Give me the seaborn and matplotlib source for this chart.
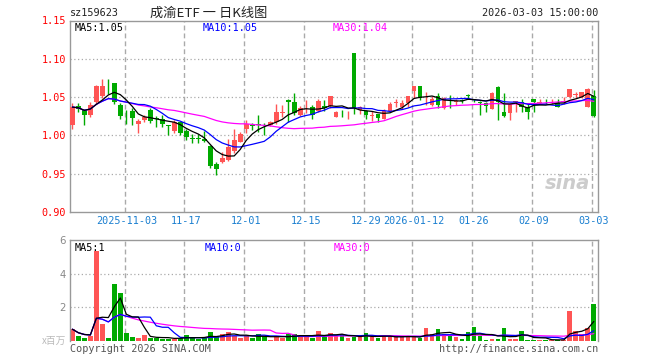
import numpy as np
import pandas as pd
import matplotlib
matplotlib.use("Agg")
import matplotlib.pyplot as plt
import seaborn as sns

# ---------------- data ----------------
opens = [1.013, 1.039, 1.033, 1.026, 1.043, 1.052, 1.069, 1.068, 1.040, 1.031,
         1.032, 1.015, 1.020, 1.033, 1.023, 1.021, 1.0135, 1.006, 1.017, 1.006,
         0.996, 0.996, 0.995, 0.986, 0.963, 0.965, 0.968, 0.979, 0.992, 1.008,
         1.013, 1.0145, 1.0135, 1.0135, 1.017, 1.0295, 1.046, 1.044, 1.027, 1.034,
         1.0376, 1.032, 1.039, 1.038, 1.0245, 1.031, 1.030, 1.107, 1.033, 1.032,
         1.0255, 1.0276, 1.022, 1.032, 1.0425, 1.0376, 1.042, 1.0574, 1.064, 1.046,
         1.040, 1.0508, 1.0355, 1.0465, 1.0437, 1.046, 1.052, 1.0467, 1.044, 1.042,
         1.0346, 1.0626, 1.031, 1.0297, 1.0436, 1.044, 1.0376, 1.047, 1.0427, 1.0433,
         1.0435, 1.042, 1.0437, 1.0495, 1.0527, 1.050, 1.0376, 1.051]
highs = [1.042, 1.042, 1.034, 1.043, 1.066, 1.074, 1.074, 1.069, 1.042, 1.033,
         1.036, 1.022, 1.027, 1.036, 1.025, 1.027, 1.014, 1.020, 1.018, 1.009,
         1.002, 1.002, 1.006, 0.987, 0.965, 0.978, 0.995, 1.008, 1.005, 1.020,
         1.0166, 1.026, 1.016, 1.019, 1.041, 1.040, 1.047, 1.055, 1.038, 1.046,
         1.0395, 1.048, 1.046, 1.051, 1.032, 1.0335, 1.032, 1.107, 1.038, 1.033,
         1.032, 1.028, 1.034, 1.043, 1.048, 1.046, 1.052, 1.065, 1.065, 1.057,
         1.051, 1.055, 1.050, 1.053, 1.048, 1.047, 1.054, 1.048, 1.045, 1.044,
         1.057, 1.064, 1.056, 1.042, 1.045, 1.048, 1.042, 1.047, 1.047, 1.047,
         1.048, 1.047, 1.050, 1.061, 1.057, 1.057, 1.062, 1.0596]
lows = [1.008, 1.031, 1.013, 1.024, 1.041, 1.049, 1.054, 1.041, 1.022, 1.015,
        1.013, 1.003, 1.018, 1.016, 1.011, 1.011, 1.0005, 1.003, 1.000, 0.994,
        0.990, 0.990, 0.991, 0.957, 0.948, 0.964, 0.967, 0.977, 0.991, 1.003,
        1.007, 1.004, 1.000, 1.0125, 1.015, 1.0245, 1.018, 1.027, 1.025, 1.029,
        1.021, 1.030, 1.032, 1.036, 1.0235, 1.024, 1.021, 1.028, 1.028, 1.022,
        1.019, 1.018, 1.021, 1.031, 1.037, 1.035, 1.037, 1.049, 1.046, 1.040,
        1.038, 1.036, 1.035, 1.036, 1.040, 1.042, 1.048, 1.043, 1.0267, 1.031,
        1.034, 1.020, 1.0245, 1.020, 1.030, 1.031, 1.021, 1.031, 1.041, 1.041,
        1.041, 1.0365, 1.041, 1.049, 1.049, 1.049, 1.037, 1.0245]
closes = [1.037, 1.035, 1.026, 1.040, 1.065, 1.065, 1.068, 1.043, 1.025, 1.030,
          1.023, 1.019, 1.0245, 1.019, 1.022, 1.015, 1.012, 1.018, 1.003, 0.998,
          0.995, 0.995, 0.993, 0.960, 0.956, 0.971, 0.985, 0.994, 1.002, 1.015,
          1.0125, 1.014, 1.013, 1.017, 1.030, 1.030, 1.044, 1.029, 1.036, 1.035,
          1.027, 1.045, 1.0355, 1.051, 1.031, 1.030, 1.031, 1.036, 1.0376, 1.026,
          1.026, 1.0224, 1.032, 1.041, 1.043, 1.042, 1.051, 1.064, 1.0487, 1.0465,
          1.047, 1.040, 1.0487, 1.046, 1.044, 1.0455, 1.0517, 1.0464, 1.042, 1.0386,
          1.056, 1.044, 1.0254, 1.041, 1.044, 1.0376, 1.031, 1.043, 1.043, 1.043,
          1.044, 1.0376, 1.044, 1.060, 1.053, 1.0566, 1.060, 1.0256]
volumes = [0.70, 0.28, 0.18, 0.28, 5.32, 1.00, 0.18, 3.40, 2.88, 0.48,
           0.22, 0.16, 0.34, 0.18, 0.20, 0.14, 0.14, 0.12, 0.20, 0.34,
           0.18, 0.14, 0.18, 0.54, 0.28, 0.44, 0.54, 0.28, 0.20, 0.28,
           0.20, 0.44, 0.28, 0.08, 0.28, 0.20, 0.44, 0.40, 0.28, 0.28,
           0.20, 0.60, 0.28, 0.48, 0.28, 0.40, 0.18, 0.22, 0.24, 0.48,
           0.24, 0.18, 0.28, 0.28, 0.24, 0.28, 0.24, 0.24, 0.18, 0.78,
           0.40, 0.70, 0.40, 0.28, 0.24, 0.14, 0.54, 0.84, 0.32, 0.08,
           0.14, 0.14, 0.78, 0.14, 0.14, 0.60, 0.08, 0.08, 0.06, 0.08,
           0.08, 0.04, 0.06, 1.80, 0.60, 0.40, 0.78, 2.22]

tick_pos = [9, 19, 29, 39, 49, 57, 67, 77, 87]
tick_labels = ["2025-11-03", "11-17", "12-01", "12-15", "12-29",
               "2026-01-12", "01-26", "02-09", "03-03"]
price_ticks = [0.90, 0.95, 1.00, 1.05, 1.10, 1.15]
vol_ticks = [2, 4, 6]
code = "sz159623"
title = "成渝ETF 一 日K线图"
stamp = "2026-03-03 15:00:00"

# ---------------- style ----------------
sns.set_theme(style="white")
plt.rcParams['font.family'] = ['DejaVu Sans Mono', 'Noto Sans CJK SC']
UP = '#ff5555'
DOWN = '#00aa00'
GRID = '#aaaaaa'
FRAME = '#999999'
FS = 7.3

df = pd.DataFrame({'o': opens, 'h': highs, 'l': lows, 'c': closes, 'v': volumes})
df['i'] = np.arange(len(df))
df['up'] = df['c'] >= df['o']
for n in (5, 10, 30):
    df[f'ma{n}'] = df['c'].rolling(n, min_periods=1).mean()
    df[f'vma{n}'] = df['v'].rolling(n, min_periods=1).mean()
colors = [UP if u else DOWN for u in df['up']]

W, H = 660, 360
fig = plt.figure(figsize=(6.6, 3.6), dpi=100)
fig.patch.set_facecolor('white')
L, R = 70, 598
ax = fig.add_axes([L / W, 1 - 212 / H, (R - L) / W, 191.5 / H])
axv = fig.add_axes([L / W, 1 - 341 / H, (R - L) / W, 101 / H])

xlim = (-0.4, len(df) - 0.3)

# ---------------- price panel ----------------
for yv in price_ticks[1:-1]:
    ax.axhline(yv, color=GRID, lw=0.9, ls=(0, (1, 2)), zorder=0)
for p in tick_pos:
    ax.axvline(p - 0.3, color=GRID, lw=1, ls=(0, (3.5, 2.2)), zorder=0)

ax.vlines(df['i'], df['l'], df['h'], colors=colors, lw=1, zorder=2)
body_bottom = np.minimum(df['o'], df['c'])
body_h = np.maximum(np.abs(df['c'] - df['o']), 0.0007)
ax.bar(df['i'], body_h, bottom=body_bottom, width=0.8, color=colors,
       linewidth=0, zorder=3)

sns.lineplot(x=df['i'], y=df['ma30'], ax=ax, color='#ff00ff', lw=0.9, zorder=4)
sns.lineplot(x=df['i'], y=df['ma10'], ax=ax, color='#0000ff', lw=0.9, zorder=5)
sns.lineplot(x=df['i'], y=df['ma5'], ax=ax, color='black', lw=0.9, zorder=6)

ax.set_xlim(*xlim)
ax.set_ylim(0.90, 1.15)
ax.set_yticks(price_ticks)
ax.set_yticklabels([f"{t:.2f}" for t in price_ticks], color='red', fontsize=FS)
ax.set_xticks(tick_pos)
ax.set_xticklabels(tick_labels, color='#1a7fd0', fontsize=FS)
ax.tick_params(axis='both', length=0, pad=3)
ax.set_xlabel('')
ax.set_ylabel('')
for s in ax.spines.values():
    s.set_color(FRAME)
    s.set_linewidth(1)
    s.set_visible(True)

ax.text(0.008, 0.985, f"MA5:{df['ma5'].iloc[-1]:.2f}", transform=ax.transAxes,
        color='black', fontsize=FS, va='top', ha='left')
ax.text(0.252, 0.985, f"MA10:{df['ma10'].iloc[-1]:.2f}", transform=ax.transAxes,
        color='#0000ff', fontsize=FS, va='top', ha='left')
ax.text(0.498, 0.985, f"MA30:{df['ma30'].iloc[-1]:.2f}", transform=ax.transAxes,
        color='#ff00ff', fontsize=FS, va='top', ha='left')

ax.text(0.985, 0.10, "sina", transform=ax.transAxes, color='#cccccc',
        fontsize=14, fontweight='bold', style='italic', ha='right', va='bottom',
        family=['DejaVu Sans'], zorder=1)

# ---------------- volume panel ----------------
for yv in vol_ticks[:-1]:
    axv.axhline(yv, color=GRID, lw=0.9, ls=(0, (1, 2)), zorder=0)
for p in tick_pos:
    axv.axvline(p - 0.3, color=GRID, lw=1, ls=(0, (3.5, 2.2)), zorder=0)

axv.bar(df['i'], df['v'], width=0.8, color=colors, linewidth=0, zorder=2)
sns.lineplot(x=df['i'], y=df['vma30'], ax=axv, color='#ff00ff', lw=0.9, zorder=3)
sns.lineplot(x=df['i'], y=df['vma10'], ax=axv, color='#0000ff', lw=0.9, zorder=4)
sns.lineplot(x=df['i'], y=df['vma5'], ax=axv, color='black', lw=0.9, zorder=5)

axv.set_xlim(*xlim)
axv.set_ylim(0, 6)
axv.set_yticks(vol_ticks)
axv.set_yticklabels([str(t) for t in vol_ticks], color='#888888', fontsize=FS,
                    family=['DejaVu Sans'])
axv.set_xticks([])
axv.tick_params(axis='both', length=0, pad=3)
axv.set_xlabel('')
axv.set_ylabel('')
for s in axv.spines.values():
    s.set_color(FRAME)
    s.set_linewidth(1)
    s.set_visible(True)
axv.spines['bottom'].set_visible(False)

axv.text(0.008, 0.975, f"MA5:{int(df['vma5'].iloc[-1])}", transform=axv.transAxes,
         color='black', fontsize=FS, va='top', ha='left')
axv.text(0.255, 0.975, f"MA10:{int(df['vma10'].iloc[-1])}", transform=axv.transAxes,
         color='#0000ff', fontsize=FS, va='top', ha='left')
axv.text(0.500, 0.975, f"MA30:{int(df['vma30'].iloc[-1])}", transform=axv.transAxes,
         color='#ff00ff', fontsize=FS, va='top', ha='left')

# ---------------- header / footer texts ----------------
fig.text(70 / W, 1 - 13 / H, code, fontsize=FS, color='#222222', va='center', ha='left')
fig.text(150 / W, 1 - 13 / H, title, fontsize=9.5, color='#222222', va='center', ha='left',
         family=['Noto Sans CJK SC', 'DejaVu Sans'])
fig.text(598 / W, 1 - 13 / H, stamp, fontsize=FS, color='#222222', va='center', ha='right')
fig.text(66 / W, 1 - 341 / H, "x百万", fontsize=7, color='#bbbbbb', va='center', ha='right',
         family=['Noto Sans CJK SC', 'DejaVu Sans'])
fig.text(70 / W, 1 - 349 / H, "Copyright 2026 SINA.COM", fontsize=FS, color='#555555',
         va='center', ha='left')
fig.text(598 / W, 1 - 349 / H, "http://finance.sina.com.cn", fontsize=FS, color='#555555',
         va='center', ha='right')

fig.savefig("out.png", dpi=100, facecolor='white')
